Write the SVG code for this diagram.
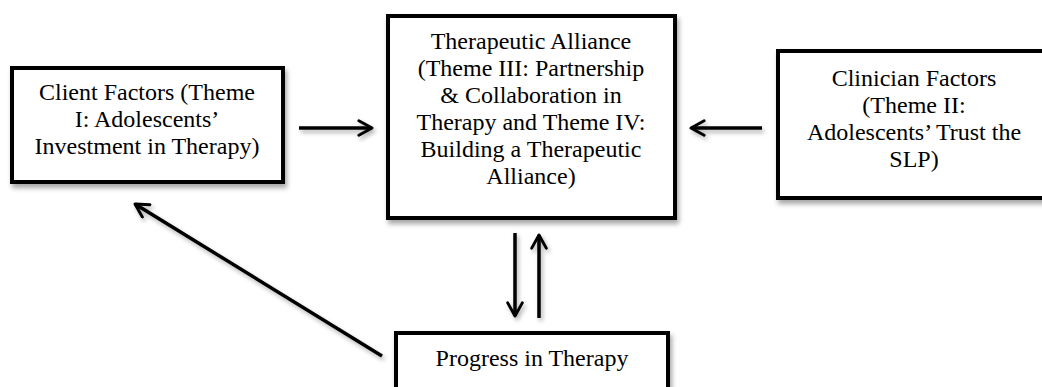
<svg xmlns="http://www.w3.org/2000/svg" width="1042" height="387" viewBox="0 0 1042 387">
<defs>
<filter id="sh" x="-10%" y="-10%" width="130%" height="140%">
<feDropShadow dx="2" dy="4" stdDeviation="2.5" flood-color="#000" flood-opacity="0.35"/>
</filter>
<filter id="shl" filterUnits="userSpaceOnUse" x="0" y="0" width="1042" height="387">
<feDropShadow dx="2" dy="3" stdDeviation="2" flood-color="#000" flood-opacity="0.3"/>
</filter>
<marker id="ah" viewBox="0 0 12 12" refX="10" refY="6" markerWidth="5" markerHeight="5" markerUnits="strokeWidth" orient="auto">
<path d="M1,1 L10,6 L1,11" fill="none" stroke="#000" stroke-width="2" stroke-linecap="round" stroke-linejoin="round"/>
</marker>
<style>
.box{fill:#fff;stroke:#000;stroke-width:4;filter:url(#sh)}
.t{font-family:"Liberation Serif","Times New Roman",serif;font-size:24px;fill:#000;text-anchor:middle}
.c{stroke:#000;stroke-width:3.5;fill:none;marker-end:url(#ah)}
</style>
</defs>
<rect width="1042" height="387" fill="#fff"/>
<g id="connectors" filter="url(#shl)">
<line class="c" x1="299" y1="128" x2="372" y2="128"/>
<line class="c" x1="762" y1="128" x2="691" y2="128"/>
<line class="c" x1="515" y1="233" x2="515" y2="316"/>
<line class="c" x1="539" y1="318" x2="539" y2="235"/>
<line class="c" x1="382" y1="356" x2="135" y2="204"/>
</g>
<g id="client">
<rect class="box" x="12" y="68" width="271" height="114"/>
<text class="t"><tspan x="147" y="100">Client Factors (Theme</tspan><tspan x="147" y="127">I: Adolescents’</tspan><tspan x="147" y="154">Investment in Therapy)</tspan></text>
</g>
<g id="alliance">
<rect class="box" x="388" y="16" width="287" height="202"/>
<text class="t"><tspan x="531" y="49">Therapeutic Alliance</tspan><tspan x="531" y="76">(Theme III: Partnership</tspan><tspan x="531" y="103">&amp; Collaboration in</tspan><tspan x="531" y="130">Therapy and Theme IV:</tspan><tspan x="531" y="157">Building a Therapeutic</tspan><tspan x="531" y="184">Alliance)</tspan></text>
</g>
<g id="clinician">
<rect class="box" x="778" y="51" width="300" height="147"/>
<text class="t"><tspan x="914" y="86">Clinician Factors</tspan><tspan x="914" y="113">(Theme II:</tspan><tspan x="914" y="140">Adolescents’ Trust the</tspan><tspan x="914" y="167">SLP)</tspan></text>
</g>
<g id="progress">
<rect class="box" x="396" y="333" width="272" height="70"/>
<text class="t" x="532" y="366">Progress in Therapy</text>
</g>
</svg>
